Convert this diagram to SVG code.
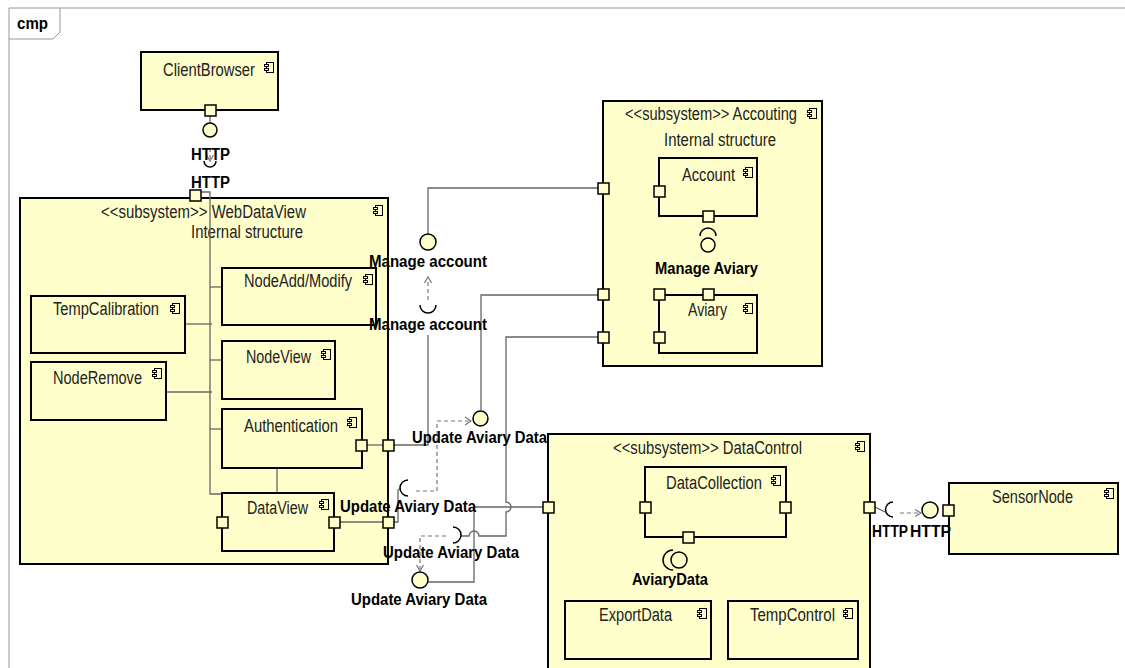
<svg xmlns="http://www.w3.org/2000/svg" width="1125" height="668" viewBox="0 0 1125 668">
<style>
.comp{fill:#FFFFCC;stroke:#000;stroke-width:2}
.port{fill:#FFFFCC;stroke:#000;stroke-width:1.5}
.ln{fill:none;stroke:#666;stroke-width:1.3}
.dash{fill:none;stroke:#777;stroke-width:1.2;stroke-dasharray:4 3}
.arw{fill:none;stroke:#777;stroke-width:1.2}
.ball{fill:#FFFFCC;stroke:#000;stroke-width:1.5}
.sock{fill:none;stroke:#000;stroke-width:1.5}
.frame{fill:none;stroke:#999;stroke-width:1}
.t{font-family:"Liberation Sans",Arial,sans-serif;font-size:18px;fill:#222}
.b{font-family:"Liberation Sans",Arial,sans-serif;font-size:16px;font-weight:bold;fill:#000}
</style>
<defs>
<g id="ic">
<rect x="2.5" y="0.5" width="7" height="10" fill="#FFFFCC" stroke="#000" stroke-width="1"/>
<rect x="0.5" y="2.5" width="4" height="2" fill="#FFFFCC" stroke="#000" stroke-width="1"/>
<rect x="0.5" y="6.5" width="4" height="2" fill="#FFFFCC" stroke="#000" stroke-width="1"/>
</g>
</defs>
<rect x="0" y="0" width="1125" height="668" fill="#fff"/>
<g id="frame">
<path class="frame" d="M9,668 V8 H1125"/>
<path class="frame" d="M9,39 H53 L60,32 V8"/>
<text class="b" x="17" y="29" textLength="31" lengthAdjust="spacingAndGlyphs">cmp</text>
</g>

<g id="WebDataView">
<rect class="comp" x="20" y="198" width="368" height="366"/>
<text class="t" x="101" y="218" textLength="205" lengthAdjust="spacingAndGlyphs">&lt;&lt;subsystem&gt;&gt; WebDataView</text>
<text class="t" x="191" y="238" textLength="112" lengthAdjust="spacingAndGlyphs">Internal structure</text>
<use href="#ic" x="373" y="205"/>
</g>

<g id="connectors">
<path class="ln" d="M210,116 V123"/>
<path class="dash" d="M210,148 V160"/>
<polyline class="arw" points="206.5,155 210,161 213.5,155"/>
<path class="sock" d="M204,161 A6,6 0 0 0 216,161"/>
<path class="ln" d="M201,192 H210 V494 H222"/>
<path class="ln" d="M210,287 H222"/>
<path class="ln" d="M185,324 H212"/>
<path class="ln" d="M210,360 H222"/>
<path class="ln" d="M166,392 H212"/>
<path class="ln" d="M210,429 H222"/>
<path class="ln" d="M277,468 V493"/>
<path class="ln" d="M367,445 H383"/>
<path class="ln" d="M340,522 H383"/>
<path class="ln" d="M598,188 H428 V234"/>
<path class="dash" d="M428,300 V279"/>
<polyline class="arw" points="424.5,283 428,277 431.5,283"/>
<path class="sock" d="M420,305 A8,8 0 0 0 436,305"/>
<path class="ln" d="M394,445 H428 V335"/>
<path class="ln" d="M598,295 H481 V410"/>
<path class="ln" d="M393,522 H398 V490 L401,488"/>
<path class="sock" d="M408,480 A8,8 0 0 0 408,496"/>
<path class="dash" d="M416,491 H437 V421 H470"/>
<polyline class="arw" points="465,417 471,421 465,425"/>
<path class="ln" d="M598,337 H506 V502 A5,5 0 0 1 506,512 V536 H479 A5,5 0 0 0 469,536 H461"/>
<path class="sock" d="M453,527 A8,8 0 0 1 453,543"/>
<path class="dash" d="M446,536 H420 V569"/>
<polyline class="arw" points="416.5,565 420,571 423.5,565"/>
<path class="ln" d="M428,582 H474 V507 H543"/>
<path class="ln" d="M609,188.5 L654,191.5"/>
<path class="ln" d="M708,222 V228"/>
<path class="ln" d="M708,278 V289"/>
<path class="ln" d="M609,294.5 H654"/>
<path class="ln" d="M609,337.5 H654"/>
<path class="ln" d="M553,507 H640"/>
<path class="ln" d="M791,507 H864"/>
<path class="ln" d="M688,543 V547 H680 V552"/>
<path class="ln" d="M663,563 H638 V601"/>
<path class="ln" d="M758,537 L795,601"/>
<path class="ln" d="M875,507 L885,512"/>
<path class="sock" d="M893,502 A7.5,7.5 0 0 0 893,517"/>
<path class="dash" d="M900,513 H920"/>
<polyline class="arw" points="915,509.5 921,513 915,516.5"/>
</g>

<g id="ClientBrowser">
<rect class="comp" x="141" y="52" width="137" height="58"/>
<text class="t" x="163" y="76" textLength="92" lengthAdjust="spacingAndGlyphs">ClientBrowser</text>
<use href="#ic" x="264" y="62"/>
<rect class="port" x="205" y="105" width="11" height="11"/>
</g>

<g id="HTTP-top">
<circle class="ball" cx="210" cy="130" r="7"/>
<text class="b" x="191" y="160" textLength="39" lengthAdjust="spacingAndGlyphs">HTTP</text>
<text class="b" x="191" y="188" textLength="39" lengthAdjust="spacingAndGlyphs">HTTP</text>
<rect class="port" x="190" y="190" width="11" height="11"/>
</g>

<g id="NodeAddModify">
<rect class="comp" x="222" y="268" width="154" height="57"/>
<text class="t" x="244" y="287" textLength="108" lengthAdjust="spacingAndGlyphs">NodeAdd/Modify</text>
<use href="#ic" x="363" y="274"/>
</g>
<g id="TempCalibration">
<rect class="comp" x="31" y="296" width="154" height="57"/>
<text class="t" x="53" y="315" textLength="106" lengthAdjust="spacingAndGlyphs">TempCalibration</text>
<use href="#ic" x="170" y="303"/>
</g>
<g id="NodeView">
<rect class="comp" x="222" y="341" width="113" height="58"/>
<text class="t" x="246" y="363" textLength="65" lengthAdjust="spacingAndGlyphs">NodeView</text>
<use href="#ic" x="321" y="349"/>
</g>
<g id="NodeRemove">
<rect class="comp" x="31" y="362" width="135" height="58"/>
<text class="t" x="53" y="384" textLength="89" lengthAdjust="spacingAndGlyphs">NodeRemove</text>
<use href="#ic" x="152" y="368"/>
</g>
<g id="Authentication">
<rect class="comp" x="222" y="409" width="140" height="59"/>
<text class="t" x="244" y="432" textLength="94" lengthAdjust="spacingAndGlyphs">Authentication</text>
<use href="#ic" x="347" y="417"/>
<rect class="port" x="356" y="440" width="11" height="11"/>
<rect class="port" x="383" y="440" width="11" height="11"/>
</g>
<g id="DataView">
<rect class="comp" x="222" y="493" width="112" height="58"/>
<text class="t" x="247" y="514" textLength="61" lengthAdjust="spacingAndGlyphs">DataView</text>
<use href="#ic" x="319" y="499"/>
<rect class="port" x="217" y="517" width="11" height="11"/>
<rect class="port" x="329" y="517" width="11" height="11"/>
<rect class="port" x="383" y="517" width="11" height="11"/>
</g>

<g id="ManageAccount">
<circle class="ball" cx="428" cy="242" r="8"/>
<text class="b" x="369" y="267" textLength="118" lengthAdjust="spacingAndGlyphs">Manage account</text>
<text class="b" x="369" y="330" textLength="118" lengthAdjust="spacingAndGlyphs">Manage account</text>
</g>

<g id="UpdateAviaryData">
<circle class="ball" cx="480.5" cy="418.5" r="7.5"/>
<text class="b" x="412" y="443" textLength="135" lengthAdjust="spacingAndGlyphs">Update Aviary Data</text>
<text class="b" x="340" y="512" textLength="136" lengthAdjust="spacingAndGlyphs">Update Aviary Data</text>
<text class="b" x="383" y="558" textLength="136" lengthAdjust="spacingAndGlyphs">Update Aviary Data</text>
<circle class="ball" cx="420" cy="580" r="8"/>
<text class="b" x="351" y="605" textLength="136" lengthAdjust="spacingAndGlyphs">Update Aviary Data</text>
</g>

<g id="Accouting">
<rect class="comp" x="603" y="101" width="219" height="265"/>
<text class="t" x="625" y="120" textLength="172" lengthAdjust="spacingAndGlyphs">&lt;&lt;subsystem&gt;&gt; Accouting</text>
<text class="t" x="664" y="146" textLength="112" lengthAdjust="spacingAndGlyphs">Internal structure</text>
<use href="#ic" x="807" y="108"/>
<rect class="port" x="598" y="183" width="11" height="11"/>
<rect class="port" x="598" y="289" width="11" height="11"/>
<rect class="port" x="598" y="332" width="11" height="11"/>
</g>
<g id="Account">
<rect class="comp" x="659" y="158" width="98" height="58"/>
<text class="t" x="682" y="181" textLength="53" lengthAdjust="spacingAndGlyphs">Account</text>
<use href="#ic" x="743" y="167"/>
<rect class="port" x="654" y="186" width="11" height="11"/>
<rect class="port" x="703" y="211" width="11" height="11"/>
<path class="sock" d="M700,236 A8,8 0 0 1 716,236"/>
<circle class="ball" cx="708" cy="245" r="7"/>
<text class="b" x="655" y="274" textLength="103" lengthAdjust="spacingAndGlyphs">Manage Aviary</text>
</g>
<g id="Aviary">
<rect class="comp" x="659" y="295" width="98" height="58"/>
<text class="t" x="688" y="316" textLength="39" lengthAdjust="spacingAndGlyphs">Aviary</text>
<use href="#ic" x="743" y="303"/>
<rect class="port" x="703" y="289" width="11" height="11"/>
<rect class="port" x="654" y="289" width="11" height="11"/>
<rect class="port" x="654" y="332" width="11" height="11"/>
</g>

<g id="DataControl">
<rect class="comp" x="548" y="434" width="322" height="250"/>
<text class="t" x="613" y="454" textLength="189" lengthAdjust="spacingAndGlyphs">&lt;&lt;subsystem&gt;&gt; DataControl</text>
<use href="#ic" x="855" y="441"/>
<rect class="port" x="543" y="502" width="11" height="11"/>
<rect class="port" x="864" y="502" width="11" height="11"/>
</g>
<g id="DataCollection">
<rect class="comp" x="645" y="467" width="141" height="70"/>
<text class="t" x="666" y="489" textLength="96" lengthAdjust="spacingAndGlyphs">DataCollection</text>
<use href="#ic" x="771" y="475"/>
<rect class="port" x="640" y="502" width="11" height="11"/>
<rect class="port" x="780" y="502" width="11" height="11"/>
<rect class="port" x="683" y="532" width="11" height="11"/>
<path class="sock" d="M673,550 A10,10 0 0 0 673,570"/>
<circle class="ball" cx="679" cy="560" r="8"/>
<text class="b" x="632" y="585" textLength="76" lengthAdjust="spacingAndGlyphs">AviaryData</text>
</g>
<g id="ExportData">
<rect class="comp" x="565" y="601" width="146" height="58"/>
<text class="t" x="599" y="621" textLength="73" lengthAdjust="spacingAndGlyphs">ExportData</text>
<use href="#ic" x="697" y="608"/>
</g>
<g id="TempControl">
<rect class="comp" x="728" y="601" width="130" height="58"/>
<text class="t" x="750" y="621" textLength="85" lengthAdjust="spacingAndGlyphs">TempControl</text>
<use href="#ic" x="843" y="608"/>
</g>

<g id="SensorNode">
<rect class="comp" x="949" y="483" width="169" height="71"/>
<text class="t" x="992" y="503" textLength="81" lengthAdjust="spacingAndGlyphs">SensorNode</text>
<use href="#ic" x="1104" y="488"/>
<circle class="ball" cx="930" cy="510" r="8"/>
<rect class="port" x="943" y="505" width="11" height="11"/>
<text class="b" x="872" y="537" textLength="36" lengthAdjust="spacingAndGlyphs">HTTP</text>
<text class="b" x="910" y="537" textLength="41" lengthAdjust="spacingAndGlyphs">HTTP</text>
</g>
</svg>
